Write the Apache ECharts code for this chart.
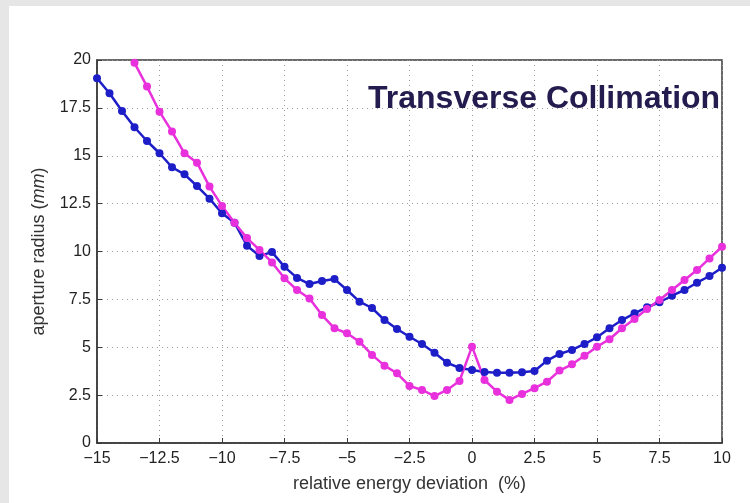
<!DOCTYPE html>
<html>
<head>
<meta charset="utf-8">
<script src="https://cdn.jsdelivr.net/npm/echarts@6/dist/echarts.min.js"></script>
<style>
html,body{margin:0;padding:0;background:#e6e6e6;width:750px;height:503px;overflow:hidden;}
#panel{position:absolute;left:9px;top:6px;width:741px;height:497px;background:#ffffff;}
#chart{width:741px;height:497px;}
</style>
</head>
<body>
<div id="panel"><div id="chart"></div></div>
<script>
const titleText = 'Transverse Collimation';
const xAxisName = 'relative energy deviation  (%)';
const yAxisName = 'aperture radius ({i|mm})';

const blueX = [-15,-14.5,-14,-13.5,-13,-12.5,-12,-11.5,-11,-10.5,-10,-9.5,-9,-8.5,-8,-7.5,-7,-6.5,-6,-5.5,-5,-4.5,-4,-3.5,-3,-2.5,-2,-1.5,-1,-0.5,0,0.5,1,1.5,2,2.5,3,3.5,4,4.5,5,5.5,6,6.5,7,7.5,8,8.5,9,9.5,10];
const blueY = [19.05,18.26,17.34,16.49,15.77,15.13,14.40,14.03,13.42,12.76,12.0,11.5,10.3,9.77,9.97,9.2,8.62,8.3,8.46,8.56,7.99,7.38,7.05,6.42,5.95,5.55,5.17,4.71,4.19,3.92,3.81,3.71,3.67,3.67,3.69,3.76,4.30,4.65,4.86,5.17,5.52,5.99,6.42,6.77,7.09,7.35,7.69,7.99,8.37,8.72,9.15];

const magentaX = [-13.5,-13,-12.5,-12,-11.5,-11,-10.5,-10,-9.5,-9,-8.5,-8,-7.5,-7,-6.5,-6,-5.5,-5,-4.5,-4,-3.5,-3,-2.5,-2,-1.5,-1,-0.5,0,0.5,1,1.5,2,2.5,3,3.5,4,4.5,5,5.5,6,6.5,7,7.5,8,8.5,9,9.5,10];
const magentaY = [19.85,18.61,17.30,16.26,15.13,14.64,13.39,12.38,11.5,10.7,10.08,9.43,8.60,7.99,7.55,6.68,5.99,5.73,5.29,4.60,4.04,3.64,2.98,2.77,2.45,2.77,3.24,5.03,3.29,2.68,2.25,2.56,2.86,3.20,3.78,4.11,4.56,5.03,5.42,5.99,6.48,7.0,7.47,7.99,8.51,9.03,9.64,10.25];

const xTicks = [-15,-12.5,-10,-7.5,-5,-2.5,0,2.5,5,7.5,10];
const yTicks = [0,2.5,5,7.5,10,12.5,15,17.5,20];

const pair = (xs, ys) => xs.map((x, i) => [x, ys[i]]);
const fmt = v => String(v).replace('-', '\u2212');

const chart = echarts.init(document.getElementById('chart'), null, {renderer: 'canvas'});
const font = "'Liberation Sans', Arial, sans-serif";
const gridLine = {show: true, lineStyle: {color: '#9a9a9a', type: [1, 4], width: 1}};

chart.setOption({
  animation: false,
  backgroundColor: 'transparent',
  title: {
    text: titleText,
    left: 354, top: 72,
    textStyle: {fontFamily: font, fontSize: 32, fontWeight: 'bold', color: '#241c4e'}
  },
  grid: {left: 88, right: 28, top: 54, bottom: 60, show: true, borderColor: '#3a3a3a', borderWidth: 1.5, backgroundColor: 'transparent'},
  xAxis: {
    type: 'value', min: xTicks[0], max: xTicks[xTicks.length - 1], interval: 2.5,
    name: xAxisName, nameLocation: 'middle', nameGap: 32,
    nameTextStyle: {fontFamily: font, fontSize: 18, color: '#333'},
    axisLine: {show: true, onZero: false, lineStyle: {color: '#3a3a3a', width: 1.5}},
    axisTick: {show: true, inside: true, length: 5, lineStyle: {color: '#3a3a3a'}},
    axisLabel: {fontFamily: font, fontSize: 16, color: '#222', margin: 8, formatter: v => fmt(v)},
    splitLine: gridLine
  },
  yAxis: {
    type: 'value', min: yTicks[0], max: yTicks[yTicks.length - 1], interval: 2.5,
    name: yAxisName, nameLocation: 'middle', nameGap: 49, nameRotate: 90,
    nameTextStyle: {fontFamily: font, fontSize: 18, color: '#333',
      rich: {i: {fontFamily: font, fontSize: 18, fontStyle: 'italic', color: '#333'}}},
    axisLine: {show: true, onZero: false, lineStyle: {color: '#3a3a3a', width: 1.5}},
    axisTick: {show: true, inside: true, length: 5, lineStyle: {color: '#3a3a3a'}},
    axisLabel: {fontFamily: font, fontSize: 16, color: '#222', margin: 6, formatter: v => fmt(v)},
    splitLine: gridLine
  },
  series: [
    {
      name: 'blue', type: 'line', data: pair(blueX, blueY),
      symbol: 'circle', symbolSize: 8, clip: true,
      lineStyle: {color: '#1e1ec8', width: 2.5},
      itemStyle: {color: '#1e1ec8'}
    },
    {
      name: 'magenta', type: 'line', data: pair(magentaX, magentaY),
      symbol: 'circle', symbolSize: 8, clip: true,
      lineStyle: {color: '#e830dc', width: 2.5},
      itemStyle: {color: '#e830dc'}
    }
  ]
});
</script>
</body>
</html>
